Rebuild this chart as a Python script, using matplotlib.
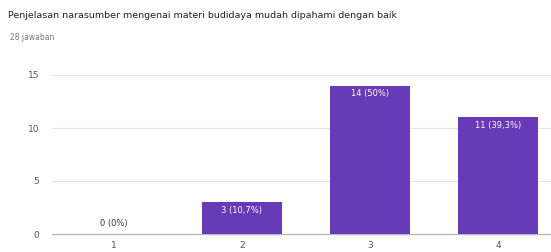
import matplotlib.pyplot as plt
import numpy as np

# data
categories = ['1', '2', '3', '4']
counts = [0, 3, 14, 11]
labels = ['0 (0%)', '3 (10,7%)', '14 (50%)', '11 (39,3%)']
yticks = [0, 5, 10, 15]

title = 'Penjelasan narasumber mengenai materi budidaya mudah dipahami dengan baik'
subtitle = '28 jawaban'

bar_color = '#673ab7'

fig = plt.figure(figsize=(5.51, 2.52), dpi=100)
ax = fig.add_axes([52 / 551, 18 / 252, 499 / 551, 159 / 252])

x = np.arange(len(categories))
ax.bar(x, counts, width=0.62, color=bar_color, zorder=3)

for xi, c, lab in zip(x, counts, labels):
    if c == 0:
        ax.text(xi, 0.6, lab, ha='center', va='bottom', fontsize=6, color='#333333')
    else:
        ax.text(xi, c - 0.35, lab, ha='center', va='top', fontsize=6, color='white')

ax.set_xlim(-0.484, 3.414)
ax.set_ylim(0, 15)
ax.set_xticks(x)
ax.set_xticklabels(categories)
ax.set_yticks(yticks)
ax.tick_params(axis='both', length=0, labelsize=6.5, colors='#555555')
ax.tick_params(axis='y', pad=9)
ax.tick_params(axis='x', pad=5)
ax.grid(axis='y', color='#e6e6e6', linewidth=0.8, zorder=0)
for s in ['top', 'right', 'left']:
    ax.spines[s].set_visible(False)
ax.spines['bottom'].set_color('#bbbbbb')
ax.spines['bottom'].set_linewidth(1.0)

fig.text(8 / 551, 1 - 15 / 252, title, fontsize=6.8, color='#222222', va='center', ha='left')
fig.text(10 / 551, 1 - 38 / 252, subtitle, fontsize=5.5, color='#777777', va='center', ha='left')

fig.savefig('out.png', dpi=100)
